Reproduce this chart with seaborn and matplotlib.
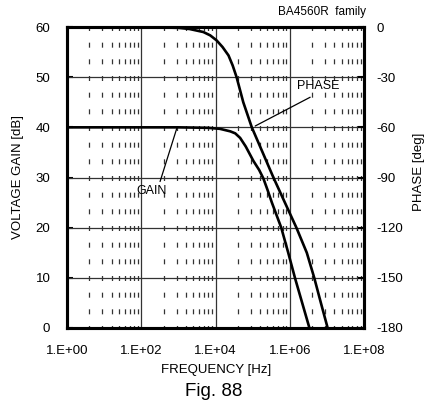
import matplotlib
matplotlib.use("Agg")
import matplotlib.pyplot as plt
import seaborn as sns
import pandas as pd
from matplotlib.ticker import FixedLocator, FixedFormatter, NullLocator

# --------------------------
# Data
# --------------------------
gain_freq = [1e0, 1e1, 1e2, 1e3, 6.3e3, 1.32e4, 2.5e4, 3.4e4, 4.6e4, 6.5e4,
             1.05e5, 1.5e5, 1.95e5, 2.5e5, 3.3e5, 5.9e5, 9.1e5, 1.38e6, 3.39e6]
gain_db = [40, 40, 40, 40, 39.9, 39.7, 39.2, 38.8, 37.9, 36.2,
           33.3, 31.5, 29.8, 27.6, 25.0, 20.0, 15.0, 10.0, 0]

phase_freq = [1e0, 1e2, 1.0e3, 2.0e3, 4.7e3, 7.2e3, 1.07e4, 1.55e4, 2.24e4,
              2.9e4, 3.7e4, 5.6e4, 9.5e4, 1.86e5, 3.63e5, 7.4e5, 1.51e6,
              2.88e6, 4.57e6, 6.9e6, 1.05e7]
phase_deg = [0, 0, -0.5, -1.2, -3, -5, -8, -12, -17,
             -23, -30, -45, -60, -75, -90, -105, -120,
             -135, -150, -165, -180]

x_ticks = [1e0, 1e2, 1e4, 1e6, 1e8]
x_ticklabels = ["1.E+00", "1.E+02", "1.E+04", "1.E+06", "1.E+08"]
gain_ticks = [0, 10, 20, 30, 40, 50, 60]
phase_ticks = [-180, -150, -120, -90, -60, -30, 0]

gain_df = pd.DataFrame({"freq": gain_freq, "gain": gain_db})
phase_df = pd.DataFrame({"freq": phase_freq, "phase": phase_deg})

# --------------------------
# Style
# --------------------------
sns.set_style("white")
plt.rcParams["font.family"] = ["Liberation Sans", "DejaVu Sans"]
plt.rcParams["lines.scale_dashes"] = False
plt.rcParams["axes.unicode_minus"] = False
for key in ["text.color", "axes.labelcolor", "xtick.color", "ytick.color"]:
    plt.rcParams[key] = "black"
fs = 9.5

fig = plt.figure(figsize=(4.28, 4.08), dpi=100)
ax = fig.add_axes([67 / 428, 80 / 408, 297 / 428, 301 / 408])

# grid: solid majors, dashed "minor" lines (excel-style log base 100)
for d in range(4):
    for k in range(2, 10):
        ax.axvline(100 ** d * k * k, color="#333333", lw=0.9,
                   linestyle=(1.8, (3.6, 8.4)), zorder=1)
for xv in x_ticks[1:-1]:
    ax.axvline(xv, color="#333333", lw=0.9, zorder=1.5)
for yv in gain_ticks[1:-1]:
    ax.axhline(yv, color="#333333", lw=0.9, zorder=1.5)

sns.lineplot(data=gain_df, x="freq", y="gain", ax=ax, color="black",
             lw=1.9, zorder=3)

ax2 = ax.twinx()
ax2.set_position(ax.get_position())
sns.lineplot(data=phase_df, x="freq", y="phase", ax=ax2, color="black",
             lw=1.9, zorder=3)

ax.set_xscale("log")
ax.set_xlim(1e0, 1e8)
ax.set_ylim(0, 60)
ax2.set_ylim(-180, 0)
ax.xaxis.set_major_locator(FixedLocator(x_ticks))
ax.xaxis.set_major_formatter(FixedFormatter(x_ticklabels))
ax.xaxis.set_minor_locator(NullLocator())
ax.set_yticks(gain_ticks)
ax2.set_yticks(phase_ticks)
for a in (ax, ax2):
    a.set_xlabel("")
    a.set_ylabel("")

ax.tick_params(axis="both", direction="in", length=4, width=1.5,
               labelsize=fs, color="black")
ax.tick_params(axis="y", pad=12)
ax.tick_params(axis="x", pad=12)
ax2.tick_params(axis="y", direction="in", length=4, width=1.5,
                labelsize=fs, pad=9, color="black")

for a in (ax, ax2):
    for s in a.spines.values():
        s.set_color("black")
        s.set_linewidth(2.2)
        s.set_visible(True)

# leader lines + labels
ax.plot([10 ** 2.957, 10 ** 2.507], [39.8, 29.2], color="black", lw=0.9)
ax.text(10 ** 2.29, 27.3, "GAIN", ha="center", va="center", fontsize=9)
ax2.plot([10 ** 5.07, 10 ** 6.55], [-59.2, -42.0], color="black", lw=0.9)
ax2.text(10 ** 6.77, -35.0, "PHASE", ha="center", va="center", fontsize=9)

# text
fig.text(18 / 428, 1 - 177 / 408, "VOLTAGE GAIN [dB]", rotation=90,
         ha="center", va="center", fontsize=fs)
fig.text(419 / 428, 1 - 172 / 408, "PHASE [deg]", rotation=90,
         ha="center", va="center", fontsize=fs)
fig.text(216 / 428, 1 - 370 / 408, "FREQUENCY [Hz]", ha="center",
         va="center", fontsize=fs)
fig.text(214 / 428, 1 - 392 / 408, "Fig. 88", ha="center", va="center",
         fontsize=13.5)
fig.text(366 / 428, 1 - 12 / 408, "BA4560R  family", ha="right",
         va="center", fontsize=8.5)

fig.savefig("out.png", dpi=100)
